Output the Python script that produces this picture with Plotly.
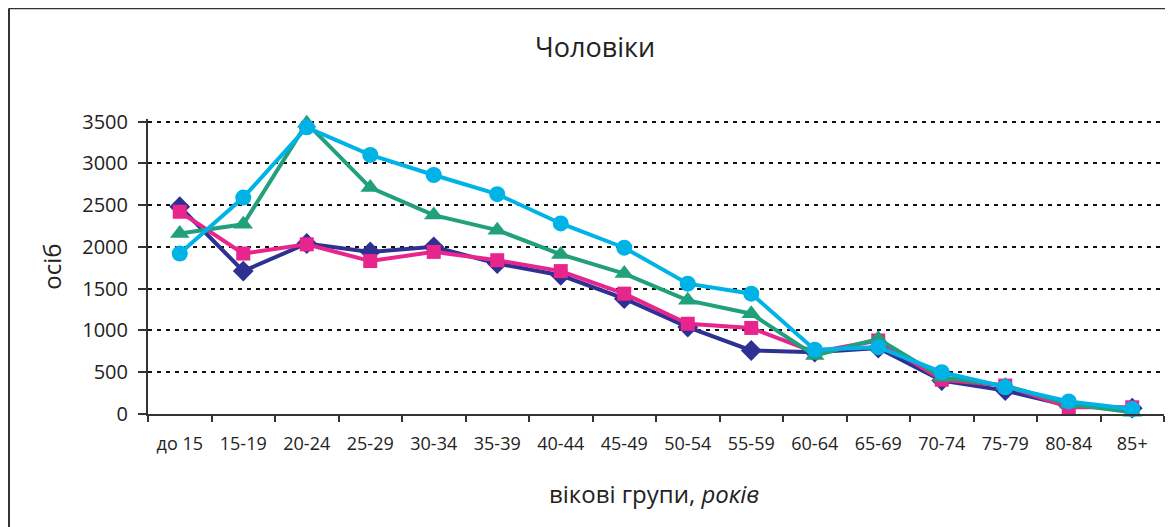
import plotly.graph_objects as go

categories = ["до 15", "15-19", "20-24", "25-29", "30-34", "35-39", "40-44", "45-49",
              "50-54", "55-59", "60-64", "65-69", "70-74", "75-79", "80-84", "85+"]

series_navy = [2480, 1710, 2040, 1940, 2000, 1800, 1660, 1380, 1040, 760, 740, 790, 400, 280, 100, 70]
series_magenta = [2420, 1920, 2030, 1830, 1940, 1840, 1710, 1440, 1080, 1030, 740, 880, 410, 340, 80, 80]
series_green = [2160, 2270, 3480, 2710, 2380, 2200, 1910, 1680, 1360, 1200, 700, 900, 440, 340, 120, 20]
series_cyan = [1920, 2590, 3430, 3100, 2860, 2630, 2280, 1990, 1560, 1440, 770, 800, 500, 320, 150, 60]

y_ticks = [0, 500, 1000, 1500, 2000, 2500, 3000, 3500]

FONT = "Open Sans"
TXT = "#222222"

fig = go.Figure()
specs = [
    (series_navy, "#2E3192", "diamond", 16),
    (series_magenta, "#E8258C", "square", 14),
    (series_green, "#21A07B", "triangle-up", 17),
    (series_cyan, "#00B3E6", "circle", 16),
]
for vals, col, sym, sz in specs:
    fig.add_trace(go.Scatter(
        x=categories, y=vals, mode="lines+markers",
        line=dict(color=col, width=4),
        marker=dict(symbol=sym, size=sz, color=col),
        cliponaxis=False, showlegend=False,
    ))

OFF = 8  # page body offset
W, H = 1173 - OFF, 527 - OFF
YMAX = 3530
ppu = (414 - 122) / 3500.0
ph = YMAX * ppu
B = 527 - 414
T = H - B - ph
L = 148 - OFF
R = W - (1164 - OFF)
pw = W - L - R


def px_x(x):
    return (x - OFF - L) / pw


def px_y(y):
    return (414 - y) / ph


fig.update_layout(
    width=W, height=H,
    margin=dict(l=L, r=R, t=T, b=B, autoexpand=False),
    paper_bgcolor="white", plot_bgcolor="white",
    font=dict(family=FONT, color=TXT),
)
fig.update_xaxes(
    type="category", range=[-0.5, 15.5],
    showline=True, linecolor="#333333", linewidth=2,
    ticks="outside", ticklen=6, tickwidth=2, tickcolor="#333333",
    tickson="boundaries", showgrid=False, ticklabelstandoff=12,
    tickfont=dict(family=FONT, size=18, color=TXT),
)
fig.update_yaxes(
    range=[0, YMAX], tickvals=y_ticks,
    showline=True, linecolor="#333333", linewidth=2,
    ticks="outside", ticklen=8, tickwidth=2, tickcolor="#333333",
    showgrid=True, gridcolor="#111111", gridwidth=2, griddash="4px,5px",
    zeroline=False, ticklabelstandoff=6,
    tickfont=dict(family=FONT, size=20, color=TXT),
)

fig.add_annotation(text="Чоловіки", xref="paper", yref="paper",
                   x=px_x(595), y=px_y(47), showarrow=False,
                   font=dict(family=FONT, size=27, color=TXT),
                   xanchor="center", yanchor="middle")
fig.add_annotation(text="осіб", xref="paper", yref="paper",
                   x=px_x(52), y=px_y(267), textangle=-90,
                   showarrow=False, font=dict(family=FONT, size=24, color=TXT),
                   xanchor="center", yanchor="middle")
fig.add_annotation(text="вікові групи, <i>років</i>", xref="paper", yref="paper",
                   x=px_x(654), y=px_y(493),
                   showarrow=False, font=dict(family=FONT, size=24, color=TXT),
                   xanchor="center", yanchor="middle")

# frame border (left and top edges visible)
bx0 = px_x(9)
by1 = px_y(9)
fig.add_shape(type="line", xref="paper", yref="paper", x0=bx0, x1=bx0, y0=px_y(560), y1=by1,
              line=dict(color="#333333", width=2))
fig.add_shape(type="line", xref="paper", yref="paper", x0=bx0, x1=px_x(1200), y0=by1, y1=by1,
              line=dict(color="#333333", width=2))

fig.write_html("out.html")
